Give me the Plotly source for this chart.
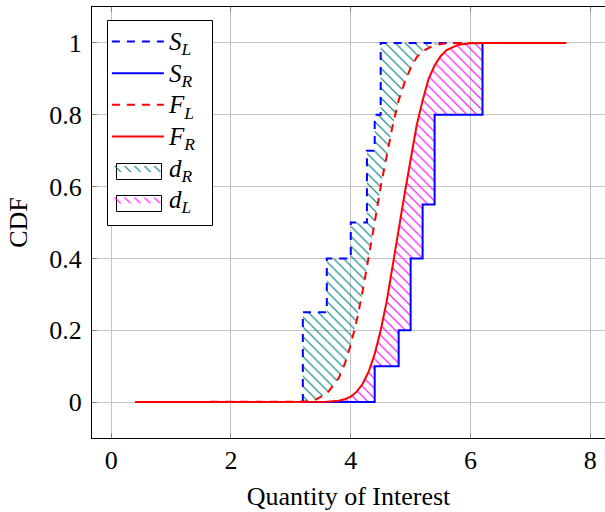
import plotly.graph_objects as go

# ---- data ----
# empirical step CDFs (jump locations and levels after each jump)
SL_jumps = [3.2, 3.6, 4.0, 4.27, 4.4, 4.5]
SL_levels = [0.25, 0.4, 0.5, 0.7, 0.8, 1.0]
SR_jumps = [4.4, 4.8, 5.0, 5.2, 5.4, 6.2]
SR_levels = [0.1, 0.2, 0.4, 0.55, 0.8, 1.0]
step_start = 3.2
step_end = 6.2

# smooth CDFs
FL_x = [0.4, 3.0, 3.2, 3.4, 3.6, 3.8, 3.9, 4.0, 4.1, 4.2, 4.3, 4.4, 4.5, 4.6,
        4.7, 4.8, 4.9, 5.0, 5.1, 5.2, 5.4, 5.6, 6.0, 7.6]
FL_y = [0.0, 0.0003, 0.0013, 0.006, 0.023, 0.067, 0.106, 0.16, 0.227, 0.31, 0.40,
        0.50, 0.60, 0.69, 0.77, 0.84, 0.89, 0.93, 0.96, 0.977, 0.994, 0.999, 1.0, 1.0]
FR_x = [0.4, 3.4, 3.6, 3.8, 3.9, 4.0, 4.1, 4.2, 4.3, 4.4, 4.5, 4.6, 4.7, 4.8,
        4.9, 5.0, 5.1, 5.2, 5.3, 5.4, 5.5, 5.6, 5.8, 6.0, 6.2, 7.6]
FR_y = [0.0, 0.0001, 0.0007, 0.0036, 0.0077, 0.015, 0.029, 0.051, 0.085, 0.134,
        0.20, 0.28, 0.375, 0.48, 0.58, 0.68, 0.77, 0.84, 0.90, 0.937, 0.963, 0.98,
        0.995, 0.999, 1.0, 1.0]

x_ticks = [0, 2, 4, 6, 8]
y_ticks = [0, 0.2, 0.4, 0.6, 0.8, 1]
y_tick_text = ["0", "0.2", "0.4", "0.6", "0.8", "1"]

# ---- helpers building vertex lists from the data ----
def step_path(jumps, levels, start, end):
    xs, ys = [start], [0.0]
    prev = 0.0
    for xj, lv in zip(jumps, levels):
        xs += [xj, xj]
        ys += [prev, lv]
        prev = lv
    xs.append(end)
    ys.append(prev)
    return xs, ys

SLx, SLy = step_path(SL_jumps, SL_levels, step_start, step_end)
SRx, SRy = step_path(SR_jumps, SR_levels, step_start, step_end)

# d_R region: between S_L (upper-left) and F_L
fl_pts = [(x, y) for x, y in zip(FL_x, FL_y) if step_start <= x <= 6.0]
sl_pts = [(x, y) for x, y in zip(SLx, SLy) if x <= fl_pts[-1][0]]
dR_x = [p[0] for p in sl_pts] + [fl_pts[-1][0]] + [p[0] for p in reversed(fl_pts)]
dR_y = [p[1] for p in sl_pts] + [1.0] + [p[1] for p in reversed(fl_pts)]

# d_L region: between F_R and S_R (lower-right)
fr_pts = [(x, y) for x, y in zip(FR_x, FR_y) if 3.9 <= x <= step_end]
sr_pts = [(x, y) for x, y in zip(SRx, SRy) if x >= SR_jumps[0]]
dL_x = [p[0] for p in fr_pts] + [p[0] for p in reversed(sr_pts)] + [fr_pts[0][0]]
dL_y = [p[1] for p in fr_pts] + [p[1] for p in reversed(sr_pts)] + [0.0]

BLUE = "#0000FF"
RED = "#FF0000"
TEAL = "#008080"
MAG = "#FF00FF"
FONT = "Liberation Serif"
DASH = "8px,7px"

def pattern(color):
    return dict(shape="\\", fgcolor=color, fgopacity=1,
                bgcolor="rgba(255,255,255,0)", fillmode="replace",
                size=7, solidity=0.17)

def lbl(main, sub):
    return ('<span style="font-size:25px"><i>%s</i><sub><i>%s</i></sub></span>'
            % (main, sub))

fig = go.Figure()

# hatched regions (drawn first)
fig.add_trace(go.Scatter(x=dR_x, y=dR_y, fill="toself", mode="lines",
                         line=dict(width=0), fillcolor="rgba(0,0,0,0)",
                         fillpattern=pattern(TEAL), showlegend=False,
                         hoverinfo="skip"))
fig.add_trace(go.Scatter(x=dL_x, y=dL_y, fill="toself", mode="lines",
                         line=dict(width=0), fillcolor="rgba(0,0,0,0)",
                         fillpattern=pattern(MAG), showlegend=False,
                         hoverinfo="skip"))

# lines
fig.add_trace(go.Scatter(x=SLx, y=SLy, mode="lines", name=lbl("S", "L"),
                         line=dict(color=BLUE, width=2, dash=DASH), legendrank=1))
fig.add_trace(go.Scatter(x=SRx, y=SRy, mode="lines", name=lbl("S", "R"),
                         line=dict(color=BLUE, width=2), legendrank=2))
fig.add_trace(go.Scatter(x=FL_x, y=FL_y, mode="lines", name=lbl("F", "L"),
                         line=dict(color=RED, width=2, dash=DASH), legendrank=3))
fig.add_trace(go.Scatter(x=FR_x, y=FR_y, mode="lines", name=lbl("F", "R"),
                         line=dict(color=RED, width=2), legendrank=4))

# legend entries for hatches
fig.add_trace(go.Scatter(x=[None], y=[None], fill="toself", mode="lines",
                         name=lbl("d", "R"),
                         line=dict(color="black", width=0), fillcolor="rgba(0,0,0,0)",
                         fillpattern=pattern(TEAL), legendrank=5))
fig.add_trace(go.Scatter(x=[None], y=[None], fill="toself", mode="lines",
                         name=lbl("d", "L"),
                         line=dict(color="black", width=0), fillcolor="rgba(0,0,0,0)",
                         fillpattern=pattern(MAG), legendrank=6))

# plot area in pixels: x 92..605, y 7..438
def px(x):
    return (x - 92) / 513.0

def py(y):
    return (438 - y) / 431.0

shapes = [
    # legend background and frame (legend itself is transparent)
    dict(type="rect", xref="paper", yref="paper", layer="above",
         x0=px(107.5), x1=px(212.5), y0=py(225.5), y1=py(20.5),
         fillcolor="white", line=dict(color="black", width=1)),
    # outlines of the hatch legend symbols
    dict(type="rect", xref="paper", yref="paper", layer="above",
         x0=px(116.5), x1=px(161.5), y0=py(179.5), y1=py(163.5),
         fillcolor="rgba(0,0,0,0)", line=dict(color="black", width=1)),
    dict(type="rect", xref="paper", yref="paper", layer="above",
         x0=px(116.5), x1=px(161.5), y0=py(211.5), y1=py(195.5),
         fillcolor="rgba(0,0,0,0)", line=dict(color="black", width=1)),
]

fig.update_layout(
    width=605, height=512,
    margin=dict(l=92, r=0, t=7, b=74, autoexpand=False),
    paper_bgcolor="white", plot_bgcolor="white",
    font=dict(family=FONT, size=26, color="black"),
    showlegend=True,
    shapes=shapes,
    legend=dict(x=0.029, y=0.968, xanchor="left", yanchor="top",
                bgcolor="rgba(0,0,0,0)", borderwidth=0,
                font=dict(family=FONT, size=22), tracegroupgap=0,
                itemwidth=52),
    xaxis=dict(range=[-0.32, 8.245], tickvals=x_ticks, showgrid=True,
               gridcolor="#c4c4c4", gridwidth=1, zeroline=False, automargin=False,
               showline=True, linecolor="black", linewidth=1, mirror="ticks",
               ticks="inside", ticklen=5, tickcolor="#888888",
               tickfont=dict(family=FONT, size=26), ticklabelstandoff=-1,
               title=dict(text="Quantity of Interest", standoff=12,
                          font=dict(family=FONT, size=26))),
    yaxis=dict(range=[-0.1, 1.1], tickvals=y_ticks, ticktext=y_tick_text,
               showgrid=True, gridcolor="#c4c4c4", gridwidth=1, zeroline=False,
               automargin=False,
               showline=True, linecolor="black", linewidth=1, mirror=False,
               ticks="inside", ticklen=5, tickcolor="#888888",
               tickfont=dict(family=FONT, size=26), ticklabelstandoff=4,
               title=dict(text="CDF", standoff=14,
                          font=dict(family=FONT, size=26))),
)

fig.write_html("out.html", config={"displayModeBar": False},
               post_script="document.body.style.margin='0';"
                           "document.body.style.overflow='hidden';")
